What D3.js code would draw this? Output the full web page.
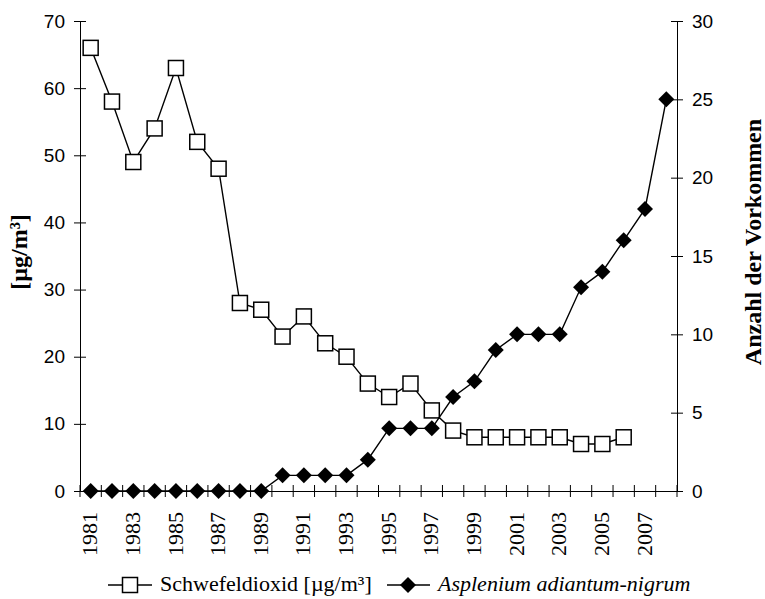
<!DOCTYPE html>
<html lang="de">
<head>
<meta charset="utf-8">
<title>Schwefeldioxid und Asplenium adiantum-nigrum</title>
<script src="https://cdn.jsdelivr.net/npm/d3@7"></script>
<style>
  body { margin: 0; background: #fff; }
  .tick text { fill: #000; }
</style>
</head>
<body>
<script>
// data
var years = d3.range(1981, 2009);
var so2Years = d3.range(1981, 2007);
var so2 = [66, 58, 49, 54, 63, 52, 48, 28, 27, 23, 26, 22, 20, 16, 14, 16, 12, 9, 8, 8, 8, 8, 8, 7, 7, 8];
var fern = [0, 0, 0, 0, 0, 0, 0, 0, 0, 1, 1, 1, 1, 2, 4, 4, 4, 6, 7, 9, 10, 10, 10, 13, 14, 16, 18, 25];
var leftTicks = [0, 10, 20, 30, 40, 50, 60, 70];
var rightTicks = [0, 5, 10, 15, 20, 25, 30];
var yearLabels = years.filter(function(d) { return d % 2 === 1; });

var w = 765, h = 599;
// plot box (named so they don't clash with window.top)
var pLeft = 80, pRight = 677, pTop = 21, pBottom = 491;

var svg = d3.select("body").append("svg")
  .attr("width", w)
  .attr("height", h);

var x = d3.scaleBand().domain(years).range([pLeft, pRight]);
var y = d3.scaleLinear().domain([0, 70]).range([pBottom, pTop]);
var y2 = d3.scaleLinear().domain([0, 30]).range([pBottom, pTop]);

// left axis, ticks cross the line
var ga = svg.append("g")
  .attr("transform", "translate(" + pLeft + ",0)")
  .call(d3.axisLeft(y).tickValues(leftTicks).tickSize(6).tickSizeOuter(0).tickPadding(9));
ga.selectAll(".tick line").attr("x2", 6).attr("x1", -6);
ga.selectAll(".tick text").attr("font-family", "Liberation Sans, Arial, sans-serif").attr("font-size", "19px");

// right axis
var gb = svg.append("g")
  .attr("transform", "translate(" + pRight + ",0)")
  .call(d3.axisRight(y2).tickValues(rightTicks).tickSize(6).tickSizeOuter(0).tickPadding(9));
gb.selectAll(".tick line").attr("x1", -6).attr("x2", 6);
gb.selectAll(".tick text").attr("font-family", "Liberation Sans, Arial, sans-serif").attr("font-size", "19px");

// x axis: labels on odd years, ticks between categories
var gx = svg.append("g")
  .attr("transform", "translate(0," + pBottom + ")")
  .call(d3.axisBottom(x).tickValues(yearLabels).tickSize(0).tickSizeOuter(0).tickPadding(0));
gx.selectAll(".tick text")
  .attr("font-family", "Liberation Serif, Times New Roman, serif")
  .attr("font-size", "22px")
  .attr("text-anchor", "end")
  .attr("transform", "translate(0,21) rotate(-90)")
  .attr("y", 0)
  .attr("x", 0)
  .attr("dy", "0.3em");

var bounds = years.map(function(d) { return x(d); }).concat([pRight]);
gx.selectAll("line.cat")
  .data(bounds)
  .enter().append("line")
  .attr("class", "cat")
  .attr("x1", function(d) { return d; })
  .attr("x2", function(d) { return d; })
  .attr("y1", -6)
  .attr("y2", 6)
  .attr("stroke", "#000");

svg.selectAll(".domain").attr("stroke", "#000");
svg.selectAll(".tick line").attr("stroke", "#000");

var cx = function(d) { return x(d) + x.bandwidth() / 2; };

// Schwefeldioxid
var so2Data = so2Years.map(function(d, i) { return {year: d, v: so2[i]}; });
svg.append("path")
  .datum(so2Data)
  .attr("fill", "none")
  .attr("stroke", "#000")
  .attr("stroke-width", 1.4)
  .attr("d", d3.line().x(function(d) { return cx(d.year); }).y(function(d) { return y(d.v); }));
svg.selectAll("rect.so2")
  .data(so2Data)
  .enter().append("rect")
  .attr("class", "so2")
  .attr("x", function(d) { return cx(d.year) - 7.5; })
  .attr("y", function(d) { return y(d.v) - 7.5; })
  .attr("width", 15)
  .attr("height", 15)
  .attr("fill", "#fff")
  .attr("stroke", "#000")
  .attr("stroke-width", 1.5);

// Asplenium
var fernData = years.map(function(d, i) { return {year: d, v: fern[i]}; });
var diamond = "M0,-8L8,0L0,8L-8,0Z";
svg.append("path")
  .datum(fernData)
  .attr("fill", "none")
  .attr("stroke", "#000")
  .attr("stroke-width", 1.4)
  .attr("d", d3.line().x(function(d) { return cx(d.year); }).y(function(d) { return y2(d.v); }));
svg.selectAll("path.fern")
  .data(fernData)
  .enter().append("path")
  .attr("class", "fern")
  .attr("d", diamond)
  .attr("transform", function(d) { return "translate(" + cx(d.year) + "," + y2(d.v) + ")"; })
  .attr("fill", "#000");

// axis titles
svg.append("text")
  .attr("transform", "translate(27,252) rotate(-90)")
  .attr("text-anchor", "middle")
  .attr("font-family", "Liberation Serif, Times New Roman, serif")
  .attr("font-weight", "bold")
  .attr("font-size", "24px")
  .text("[µg/m³]");

svg.append("text")
  .attr("transform", "translate(761,242) rotate(-90)")
  .attr("text-anchor", "middle")
  .attr("font-family", "Liberation Serif, Times New Roman, serif")
  .attr("font-weight", "bold")
  .attr("font-size", "24px")
  .text("Anzahl der Vorkommen");

// legend
var ly = 585;
var lg = svg.append("g");
lg.append("line").attr("x1", 108).attr("x2", 152).attr("y1", ly).attr("y2", ly).attr("stroke", "#000").attr("stroke-width", 1.5);
lg.append("rect").attr("x", 130 - 7.5).attr("y", ly - 7.5).attr("width", 15).attr("height", 15)
  .attr("fill", "#fff").attr("stroke", "#000").attr("stroke-width", 1.5);
lg.append("text").attr("x", 160).attr("y", ly + 6)
  .attr("font-family", "Liberation Serif, Times New Roman, serif").attr("font-size", "22px")
  .text("Schwefeldioxid [µg/m³]");
lg.append("line").attr("x1", 387).attr("x2", 430).attr("y1", ly).attr("y2", ly).attr("stroke", "#000").attr("stroke-width", 1.5);
lg.append("path").attr("d", diamond).attr("transform", "translate(408," + ly + ")").attr("fill", "#000");
lg.append("text").attr("x", 438).attr("y", ly + 6)
  .attr("font-family", "Liberation Serif, Times New Roman, serif").attr("font-size", "22px")
  .attr("font-style", "italic")
  .text("Asplenium adiantum-nigrum");
</script>
</body>
</html>
